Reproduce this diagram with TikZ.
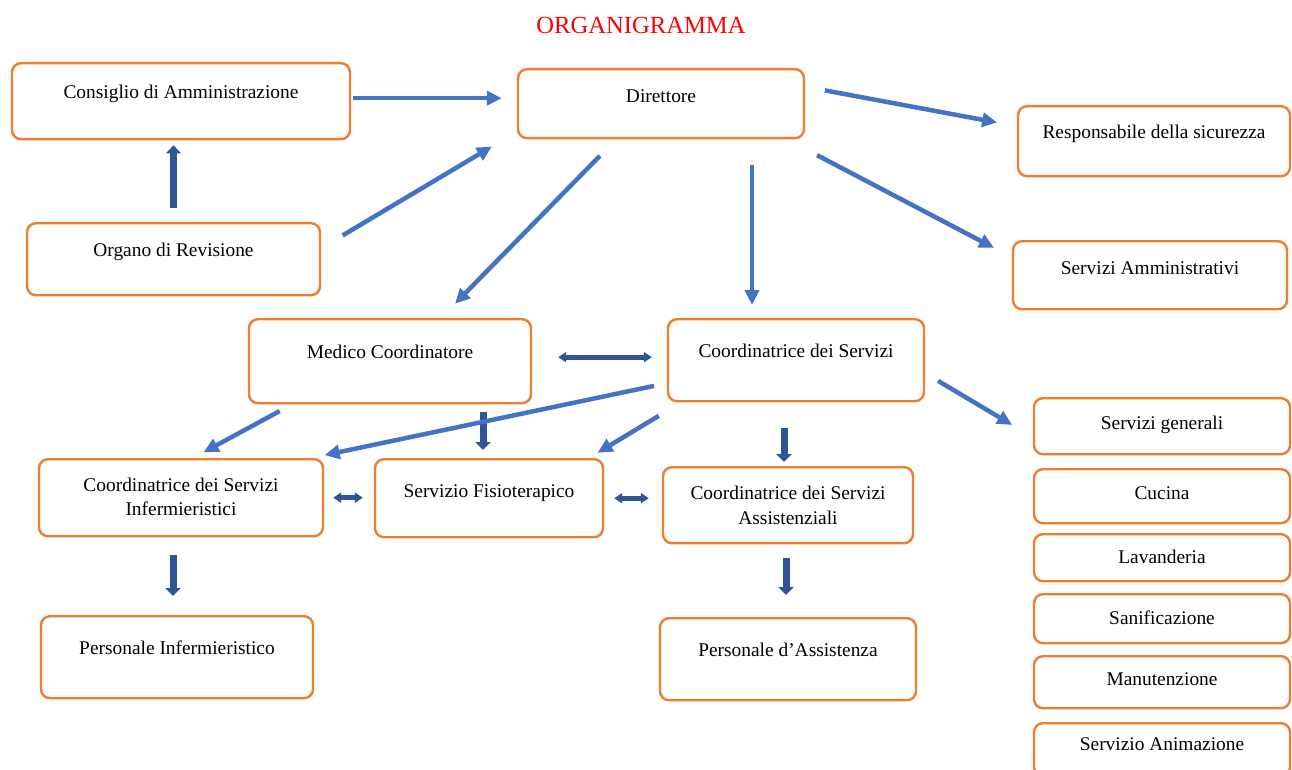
\documentclass[tikz,border=0pt]{standalone}
\usepackage{fontspec}
\setmainfont{Liberation Serif}
\usetikzlibrary{arrows.meta}
\definecolor{boxorange}{HTML}{ED7D31}
\definecolor{arrlight}{HTML}{4472C4}
\definecolor{arrdark}{HTML}{2F5597}

\begin{document}
\begin{tikzpicture}[x=1pt, y=-1pt,
    unit/.style n args={3}{draw=boxorange, line width=2.4pt, rounded corners=9pt, fill=white,
        anchor=north, align=center, inner xsep=0pt, inner ysep=0pt,
        font=\fontsize{19.4pt}{24.5pt}\selectfont,
        minimum width=#1, text height=#2, text depth=#3},
    lnk/.style={draw=arrlight, line width=4.5pt, -{Triangle[length=15pt, width=14pt]}},
    dlnk/.style={draw=arrdark, line width=7pt, -{Triangle[length=8pt, width=15pt]}},
    blnk/.style={draw=arrdark, line width=5pt, {Triangle[length=8pt, width=10pt]}-{Triangle[length=8pt, width=10pt]}}]
    \useasboundingbox (0,0) rectangle (1292,770);

    \node[text=red, font=\fontsize{24.6pt}{28pt}\selectfont] (title) at (641,25) {ORGANIGRAMMA};

    \node[unit={338pt}{35pt}{41pt}] (cda)  at (181,62)    {Consiglio di Amministrazione};
    \node[unit={286pt}{33pt}{36pt}] (dir)  at (661,68)    {Direttore};
    \node[unit={272pt}{32pt}{38pt}] (resp) at (1154,105)  {Responsabile della sicurezza};
    \node[unit={293pt}{33pt}{39pt}] (org)  at (173.5,222) {Organo di Revisione};
    \node[unit={274pt}{33pt}{35pt}] (samm) at (1150,240)  {Servizi Amministrativi};
    \node[unit={282pt}{39pt}{45pt}] (med)  at (390,318)   {Medico Coordinatore};
    \node[unit={256pt}{38pt}{44pt}] (cds)  at (796,318)   {Coordinatrice dei Servizi};
    \node[unit={284pt}{56.5pt}{20.5pt}] (cinf) at (181,458) {Coordinatrice dei Servizi\\Infermieristici};
    \node[unit={228pt}{38pt}{40pt}] (fis)  at (489,458)   {Servizio Fisioterapico};
    \node[unit={250pt}{57pt}{19pt}] (cass) at (788,466)   {Coordinatrice dei Servizi\\Assistenziali};
    \node[unit={272pt}{38pt}{44pt}] (pinf) at (177,615)   {Personale Infermieristico};
    \node[unit={256pt}{38pt}{44pt}] (pass) at (788,617)   {Personale d’Assistenza};
    \node[unit={256pt}{31pt}{25pt}] (sgen) at (1162,397)  {Servizi generali};
    \node[unit={256pt}{30pt}{24pt}] (cuc)  at (1162,468)  {Cucina};
    \node[unit={256pt}{29pt}{18pt}] (lav)  at (1162,533)  {Lavanderia};
    \node[unit={256pt}{30pt}{19pt}] (san)  at (1162,593)  {Sanificazione};
    \node[unit={256pt}{29pt}{23pt}] (man)  at (1162,655)  {Manutenzione};
    \node[unit={256pt}{27pt}{26pt}] (anim) at (1162,722)  {Servizio Animazione};

    \draw[lnk, shorten <=2pt, shorten >=15pt] ([yshift=3pt]cda.east) -- ([yshift=3pt]cda.east -| dir.west);
    \draw[lnk, shorten <=25pt, shorten >=29pt] ([yshift=11pt]org.east) -- ([yshift=-28pt]dir.west);
    \draw[dlnk, shorten <=14pt, shorten >=5pt] (org.north) -- (org.north |- cda.south);
    \draw[lnk, shorten <=20pt, shorten >=20pt] ([yshift=17pt]dir.east) -- ([yshift=15pt]resp.west);
    \draw[lnk, shorten <=34pt, shorten >=20pt] ([xshift=126pt]dir.south) -- ([yshift=18pt]samm.west);
    \draw[lnk, shorten <=23pt, shorten >=20pt] ([xshift=-45pt]dir.south) -- ([xshift=51pt]med.north);
    \draw[lnk, shorten <=26pt, shorten >=13pt] ([xshift=91pt]dir.south) -- ([xshift=91pt]dir.south |- cds.north);

    \draw[blnk, shorten <=26pt, shorten >=15pt] ([yshift=4pt]med.east) -- ([yshift=4pt]med.east -| cds.west);
    \draw[dlnk, shorten <=8pt, shorten >=8pt] ([xshift=93pt]med.south) -- ([xshift=93pt]med.south |- fis.north);
    \draw[lnk, shorten <=14pt, shorten >=12pt] ([xshift=-98pt]med.south) -- ([xshift=12pt]cinf.north);
    \draw[lnk, shorten <=13pt, shorten >=14pt] ([yshift=-23pt]cds.west) -- ([xshift=130pt]cinf.north);
    \draw[lnk, shorten <=26pt, shorten >=10pt] ([xshift=-115pt]cds.south) -- ([xshift=100pt]fis.north);
    \draw[dlnk, shorten <=26pt, shorten >=4pt] ([xshift=-12pt]cds.south) -- ([xshift=-12pt]cds.south |- cass.north);
    \draw[lnk, shorten <=15pt, shorten >=24pt] ([yshift=-13pt]cds.east) -- ([yshift=-11pt]sgen.west);

    \draw[blnk, shorten <=9pt, shorten >=11pt] (cinf.east) -- (cinf.east -| fis.west);
    \draw[blnk, shorten <=10pt, shorten >=13pt] (fis.east) -- (fis.east -| cass.west);
    \draw[dlnk, shorten <=18pt, shorten >=19pt] ([xshift=-8pt]cinf.south) -- ([xshift=-8pt]cinf.south |- pinf.north);
    \draw[dlnk, shorten <=14pt, shorten >=22pt] ([xshift=-2pt]cass.south) -- ([xshift=-2pt]cass.south |- pass.north);
\end{tikzpicture}
\end{document}
